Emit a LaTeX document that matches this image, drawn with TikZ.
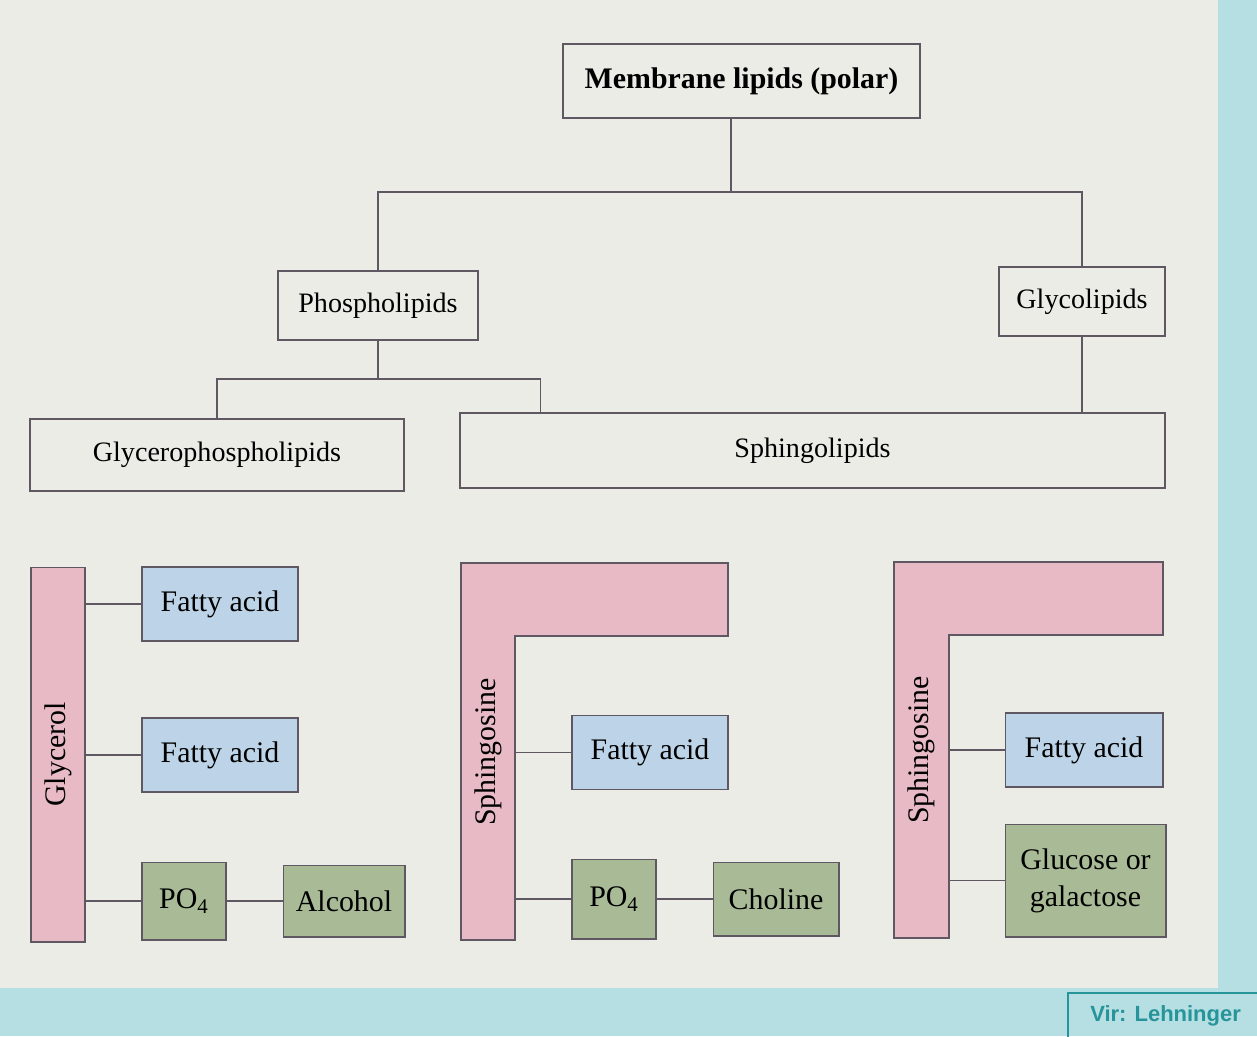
\documentclass[tikz,border=0pt]{standalone}
\usepackage{fontspec}
\setmainfont{Liberation Serif}
\setsansfont{Liberation Sans}
\usepackage{tikz}
\usetikzlibrary{positioning}

\definecolor{paper}{RGB}{236,236,231}
\definecolor{strip}{RGB}{182,223,228}
\definecolor{tealtxt}{RGB}{38,148,152}
\definecolor{edge}{RGB}{95,88,98}
\definecolor{pinkfill}{RGB}{231,186,197}
\definecolor{bluefill}{RGB}{189,212,232}
\definecolor{greenfill}{RGB}{168,187,150}

\begin{document}
\begin{tikzpicture}[
    x=0.02cm, y=-0.02cm,
    box/.style={rectangle, draw=edge, line width=0.9pt, inner sep=0pt, align=center, font=\fontsize{16}{18}\selectfont},
    part/.style={rectangle, draw=edge, line width=0.6pt, inner sep=0pt, align=center, font=\fontsize{17}{21}\selectfont},
    fatty/.style={part, fill=bluefill, minimum width=3.12cm, minimum height=1.48cm},
    polar/.style={part, fill=greenfill},
    backbone/.style={draw=edge, line width=0.6pt, fill=pinkfill},
    link/.style={draw=edge, line width=0.8pt}
]
    \useasboundingbox (0,0) rectangle (1257,1036);
    \fill[strip] (0,0) rectangle (1257,1036);
    \fill[paper] (0,0) rectangle (1218,988);

    % Classification tree
    \node[box, font=\bfseries\fontsize{17}{19}\selectfont, minimum width=7.14cm, minimum height=1.48cm] (mem) at (741.5,81) {Membrane lipids (polar)};
    \node[box, minimum width=4cm, minimum height=1.38cm] (phos) at (378,305.5) {Phospholipids};
    \node[box, minimum width=3.32cm, minimum height=1.38cm] (glyc) at (1082,301.5) {Glycolipids};
    \node[box, minimum width=7.48cm, minimum height=1.44cm] (gpl) at (217,455) {Glycerophospholipids};
    \node[box, minimum width=14.1cm, minimum height=1.5cm] (spl) at (812.5,450.5) {Sphingolipids};

    \coordinate (fork) at (731,192);
    \coordinate (fork2) at (378,379);
    \draw[link] (fork |- mem.south) -- (fork);
    \draw[link] (phos.north) |- (fork) -| (glyc.north);
    \draw[link] (phos.south) -- (fork2);
    \draw[link] (gpl.north) |- (fork2) -| ([xshift=1.62cm]spl.north west);
    \draw[link] (glyc.south) -- (glyc.south |- spl.north);

    % Glycerophospholipid
    \node[part, fill=pinkfill, rotate=90, minimum width=7.5cm, minimum height=1.08cm] (glyo) at (58,754.5) {Glycerol};
    \node[fatty] (fa1) at (220,604) {Fatty acid};
    \node[fatty] (fa2) at (220,755) {Fatty acid};
    \node[polar, minimum width=1.68cm, minimum height=1.56cm] (po1) at (184,901) {PO\textsubscript{4}};
    \node[polar, minimum width=2.44cm, minimum height=1.44cm, right=1.12cm of po1] (alc) {Alcohol};

    \draw[link] (fa1.west -| glyo.south) -- (fa1.west);
    \draw[link] (fa2.west -| glyo.south) -- (fa2.west);
    \draw[link] (po1.west -| glyo.south) -- (po1.west);
    \draw[link] (po1) -- (alc);

    % Sphingolipid with choline
    \coordinate (sph1) at (515,0);
    \filldraw[backbone] (461,563) -- (728,563) -- (728,636) -- (515,636) -- (515,940) -- (461,940) -- cycle;
    \node[part, draw=none, rotate=90] (sphname1) at (488,752) {Sphingosine};
    \node[fatty] (fa3) at (650,752.5) {Fatty acid};
    \node[polar, minimum width=1.68cm, minimum height=1.6cm] (po2) at (614,899) {PO\textsubscript{4}};
    \node[polar, minimum width=2.52cm, minimum height=1.48cm, right=1.12cm of po2] (chol) {Choline};

    \draw[link] (fa3.west -| sph1) -- (fa3.west);
    \draw[link] (po2.west -| sph1) -- (po2.west);
    \draw[link] (po2) -- (chol);

    % Glycolipid
    \coordinate (sph2) at (949,0);
    \filldraw[backbone] (894,562) -- (1163,562) -- (1163,635) -- (949,635) -- (949,938) -- (894,938) -- cycle;
    \node[part, draw=none, rotate=90] (sphname2) at (921.5,750) {Sphingosine};
    \node[fatty, minimum width=3.16cm] (fa4) at (1084,750) {Fatty acid};
    \node[polar, minimum width=3.22cm, minimum height=2.26cm] (sugar) at (1085.5,880.5) {Glucose or\\galactose};

    \draw[link] (fa4.west -| sph2) -- (fa4.west);
    \draw[link] (sugar.west -| sph2) -- (sugar.west);

    % Source
    \node[draw=tealtxt, line width=1.2pt, anchor=north west, minimum width=3.9cm, minimum height=0.92cm, text=tealtxt, font=\sffamily\bfseries\fontsize{12.5}{14}\selectfont] (src) at (1067,992) {Vir: Lehninger};
\end{tikzpicture}
\end{document}
